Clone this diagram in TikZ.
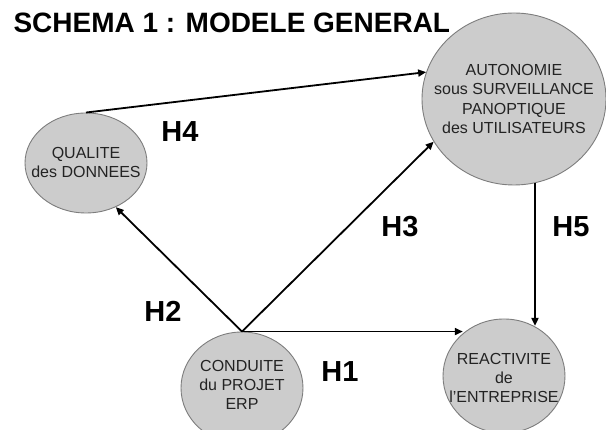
\documentclass[tikz,border=0pt]{standalone}
\usepackage{fontspec}
\setmainfont{Liberation Sans}
\usepackage{xcolor}
\usepackage{tikz}
\usetikzlibrary{arrows.meta, shapes.geometric}

\definecolor{bubblefill}{RGB}{204,204,204}
\definecolor{bubbleline}{RGB}{125,125,125}
\definecolor{textgray}{RGB}{35,35,35}

\begin{document}
\begin{tikzpicture}[
  x=1pt, y=1pt,
  bubble/.style={draw=bubbleline, line width=0.9pt, fill=bubblefill, ellipse, inner sep=0pt},
  inside/.style={align=center, text=textgray, font=\fontsize{16}{19}\selectfont},
  hyp/.style={font=\fontsize{29}{30}\selectfont\bfseries},
  arrow/.style={-{Triangle[length=8pt, width=7pt]}, line width=1.8pt}
]
\useasboundingbox (0,0) rectangle (606,430);

\node[anchor=base west, font=\fontsize{28}{30}\selectfont\bfseries] (title) at (10,397) {SCHEMA 1 : MODELE GENERAL};

\node[bubble, minimum width=122, minimum height=100,
  label={[inside]center:QUALITE\\des DONNEES}] (qual) at (86,267) {};
\node[bubble, minimum width=184, minimum height=172,
  label={[inside]center:AUTONOMIE\\sous SURVEILLANCE\\PANOPTIQUE\\des UTILISATEURS}] (auto) at (514,331) {};
\node[bubble, minimum width=122, minimum height=112,
  label={[inside, yshift=3pt]center:CONDUITE\\du PROJET\\ERP}] (cond) at (242,42) {};
\node[bubble, minimum width=122, minimum height=114,
  label={[inside, yshift=-2pt]center:REACTIVITE\\de\\l'ENTREPRISE}] (reac) at (504,54) {};

\draw[arrow] (cond.north) -- (cond.north -| reac.134);
\draw[arrow] (cond.north) -- (qual.304);
\draw[arrow] (cond.north) -- (auto.208);
\draw[arrow] (qual.north) -- (auto.163);
\draw[arrow] (auto.284) -- (auto.284 |- reac.59);

\node[hyp] (h1) at (340,58) {H1};
\node[hyp] (h2) at (163,119) {H2};
\node[hyp] (h3) at (400,203) {H3};
\node[hyp] (h4) at (180,298) {H4};
\node[hyp] (h5) at (571,203) {H5};
\end{tikzpicture}
\end{document}
